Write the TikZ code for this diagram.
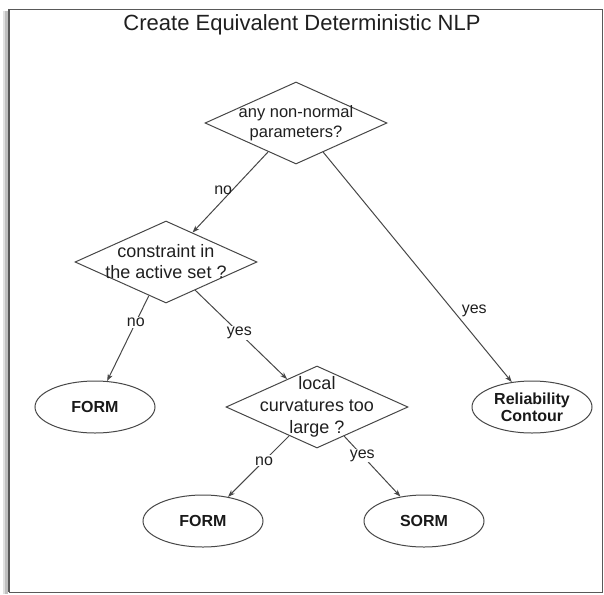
\documentclass[tikz,border=0pt]{standalone}
\usepackage{fontspec}
\setmainfont{Liberation Sans}
\usetikzlibrary{shapes.geometric,arrows.meta}
\begin{document}
\begin{tikzpicture}[x=1pt,y=-1pt,
  dia/.style={diamond, draw=black!72, line width=1pt, minimum width=182pt, minimum height=82pt, inner sep=0pt},
  dtext/.style={align=center, inner sep=0pt, text=black!88},
  term/.style={ellipse, draw=black!72, line width=1pt, minimum width=120pt, minimum height=52pt, inner sep=0pt, align=center, text=black!90, font=\fontsize{16}{17}\selectfont\bfseries},
  conn/.style={draw=black!72, line width=1pt, -{Stealth[length=7pt,width=5pt,inset=2pt]}},
  lab/.style={font=\fontsize{16}{18}\selectfont, inner sep=1pt, text=black!88},
]
\useasboundingbox (0,0) rectangle (604,594);
% frame with shadow
\fill[black!12] (3,11) rectangle (8,594);
\fill[black!25] (5,11) rectangle (8,594);
\draw[black!65, line width=0.8pt] (9,9) rectangle (602,592);
\draw[black!65, line width=1.8pt] (8.5,9) -- (8.5,592);
\node[font=\fontsize{22}{26}\selectfont, anchor=base, text=black!88] (title) at (302,31) {Create Equivalent Deterministic NLP};

% decisions
\node[dia] (d1) at (296,123) {};
\node[dtext, font=\fontsize{16.5}{20}\selectfont] (t1) at (d1) {any non-normal\\parameters?};
\node[dia] (d2) at (166,262) {};
\node[dtext, font=\fontsize{18}{21}\selectfont] (t2) at (d2) {constraint in\\the active set ?};
\node[dia] (d3) at (317,407) {};
\node[dtext, font=\fontsize{18}{22}\selectfont] (t3) at (d3) {local\\curvatures too\\large ?};

% terminals
\node[term] (rc) at (532,407) {Reliability\\Contour};
\node[term] (f1) at (95,407) {FORM};
\node[term] (f2) at (203,521) {FORM};
\node[term] (sorm) at (424,521) {SORM};

% connectors
\draw[conn] (d1.226) -- node[lab, pos=0.47, anchor=east, inner sep=0pt] (l1) {no} (d2.48);
\draw[conn] (d1.313) -- node[lab, pos=0.69, anchor=west, inner sep=0pt, xshift=8pt] (l2) {yes} (rc.129);
\draw[conn] (d2.243) -- node[lab, pos=0.31, fill=white] (l3) {no} (f1.65);
\draw[conn] (d2.316) -- node[lab, pos=0.48, fill=white] (l4) {yes} (d3.137);
\draw[conn] (d3.226) -- node[lab, pos=0.41, fill=white] (l5) {no} (f2.44);
\draw[conn] (d3.313) -- node[lab, pos=0.32, fill=white] (l6) {yes} (sorm.134);
\end{tikzpicture}
\end{document}
